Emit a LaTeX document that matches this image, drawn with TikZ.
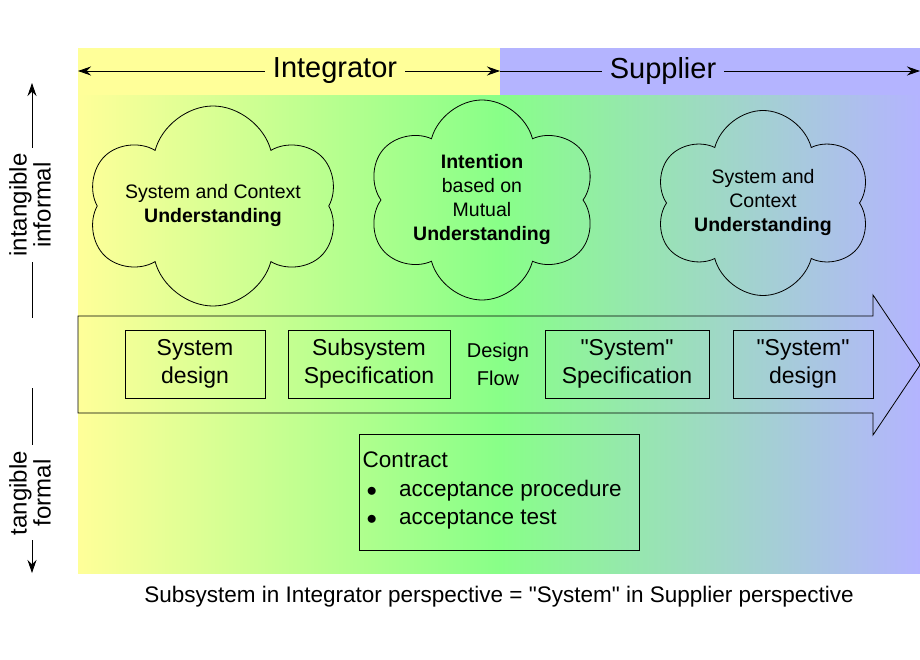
\documentclass[tikz,border=0pt]{standalone}
\usepackage{fontspec}
\setmainfont{Liberation Sans}
\newfontfamily\nqfont{Liberation Sans}
\usetikzlibrary{shapes.symbols,arrows.meta}
\definecolor{cy}{HTML}{FFFF99}
\definecolor{cg}{HTML}{88FF88}
\definecolor{cb}{HTML}{B4B4FF}
\newcommand\dq{{\nqfont\char"22}}
\begin{document}
\begin{tikzpicture}[x=1pt,y=-1pt,line width=0.8pt,
  cl/.style={cloud,cloud puffs=6,draw,cloud ignores aspect,align=center,font=\fontsize{19.5}{24}\selectfont},
  bx/.style={draw,align=center,font=\fontsize{23}{28}\selectfont},
  side/.style={rotate=90,align=center,font=\fontsize{24}{24}\selectfont},
  hd/.style={fill=#1,inner sep=8pt,font=\fontsize{29}{32}\selectfont}]
\useasboundingbox (0,0) rectangle (920,660);
\fill[white] (0,0) rectangle (920,660);
\shade[left color=cy,right color=cg] (78,95) rectangle (500,573);
\shade[left color=cg,right color=cb] (499.5,95) rectangle (920,573);
\fill[cy] (78,48) rectangle (500,95);
\fill[cb] (500,48) rectangle (920,95);
% header arrows
\coordinate (il) at (78,71); \coordinate (im) at (500,71); \coordinate (ir) at (920,71);
\draw[{Stealth[length=13pt,width=9pt]}-{Stealth[length=13pt,width=9pt]}] (il) -- (im);
\draw[-{Stealth[length=13pt,width=9pt]}] (im) -- (ir);
\node[hd=cy] (integ) at (335,71) {Integrator};
\node[hd=cb] (supp) at (663,71) {Supplier};
% left axis
\coordinate (t0) at (32,83); \coordinate (t1) at (32,148);
\coordinate (t2) at (32,262); \coordinate (t3) at (32,318);
\coordinate (b0) at (32,388); \coordinate (b1) at (32,445);
\coordinate (b2) at (32,540); \coordinate (b3) at (32,573);
\draw[{Stealth[length=13pt,width=9pt]}-] (t0) -- (t1);
\draw (t2) -- (t3);
\draw (b0) -- (b1);
\draw[-{Stealth[length=13pt,width=9pt]}] (b2) -- (b3);
\node[side] (intang) at (30,205) {intangible\\informal};
\node[side] (tang) at (30,493) {tangible\\formal};
% clouds
\node[cl,minimum width=215pt,minimum height=200pt] (c1) at (213,206) {System and Context\\\textbf{Understanding}};
\node[cl,minimum width=200pt,minimum height=200pt] (c2) at (482,200) {\textbf{Intention}\\based on\\Mutual\\\textbf{Understanding}};
\node[cl,minimum width=200pt,minimum height=185pt] (c3) at (763,203) {System and\\Context\\\textbf{Understanding}};
% big arrow
\draw (78,316) -- (873,316) -- (873,295) -- (920,365) -- (873,435) -- (873,413) -- (78,413) -- cycle;
\node[bx,minimum width=140pt,minimum height=68pt] (sd) at (195,364) {System\\design};
\node[bx,minimum width=162pt,minimum height=68pt] (ss) at (369,364) {Subsystem\\Specification};
\node[align=center,font=\fontsize{20}{28}\selectfont] (df) at (498,364) {Design\\Flow};
\node[bx,minimum width=164pt,minimum height=68pt] (sys) at (627,364) {\dq System\dq\\Specification};
\node[bx,minimum width=140pt,minimum height=68pt] (sysd) at (803,364) {\dq System\dq\\design};
% contract
\node[draw,minimum width=280pt,minimum height=116pt] (con) at (499,492) {};
\node[anchor=north west,align=left,font=\fontsize{22.5}{28}\selectfont] (ct) at (359,448) {Contract\\[1pt]
\hspace*{4pt}$\bullet$\hspace{22pt}acceptance procedure\\
\hspace*{4pt}$\bullet$\hspace{22pt}acceptance test};
\node[font=\fontsize{22.5}{26}\selectfont] (foot) at (499,597) {Subsystem in Integrator perspective = \dq System\dq{} in Supplier perspective};
\end{tikzpicture}
\end{document}
